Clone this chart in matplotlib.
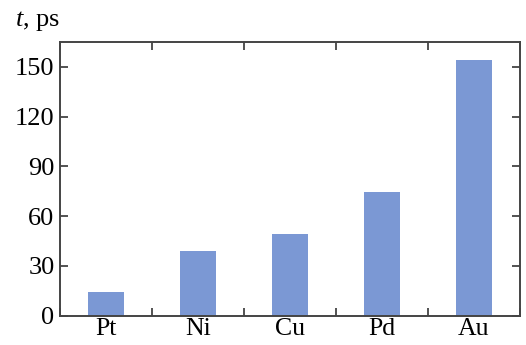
import matplotlib
matplotlib.use("Agg")
import matplotlib.pyplot as plt
import numpy as np

categories = ["Pt", "Ni", "Cu", "Pd", "Au"]
values = [14.3, 38.9, 49.1, 74.4, 154.4]
yticks = [0, 30, 60, 90, 120, 150]

plt.rcParams['font.family'] = ['Liberation Serif', 'DejaVu Serif']
plt.rcParams['mathtext.fontset'] = 'custom'
plt.rcParams['mathtext.it'] = 'Liberation Serif:italic'
plt.rcParams['mathtext.rm'] = 'Liberation Serif'

fig = plt.figure(figsize=(5.26, 3.45), dpi=100)
ax = fig.add_axes([60/526, 1-315.7/345, 460/526, (315.7-42)/345])

x = np.arange(len(categories))
ax.bar(x, values, width=0.4, color='#7b98d4')
ax.set_xlim(-0.5, len(categories)-0.5)
ax.set_ylim(0, 165)
ax.set_yticks(yticks)
ax.set_xticks(x)
ax.set_xticklabels(categories)
ax.set_xticks(np.arange(len(categories)+1)-0.5, minor=True)
ax.tick_params(axis='x', which='major', length=0, labelsize=18.5, pad=2)
ax.tick_params(axis='x', which='minor', direction='in', length=6, width=1.3, top=True, bottom=True, color='#444444')
ax.tick_params(axis='y', which='major', direction='in', length=6, width=1.3, left=True, right=True, labelsize=19, color='#444444', pad=4)
for s in ax.spines.values():
    s.set_linewidth(1.4)
    s.set_color('#444444')

fig.text(15/526, 1-21/345, r'$t$, ps', fontsize=19, va='center', ha='left')
fig.savefig('out.png', dpi=100)
